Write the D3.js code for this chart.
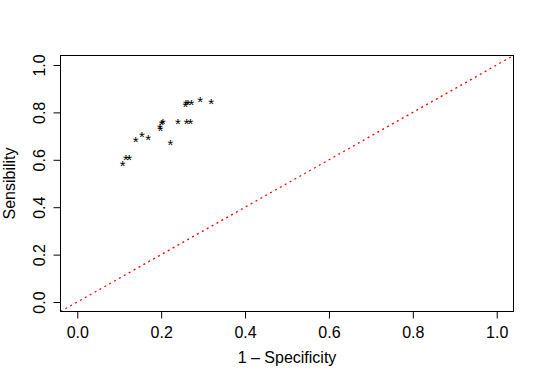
<!DOCTYPE html>
<html>
<head>
<meta charset="utf-8">
<script src="https://cdn.jsdelivr.net/npm/d3@7"></script>
<style>
  body { margin: 0; background: #fff; }
  text { font-family: "Liberation Sans", Arial, sans-serif; }
</style>
</head>
<body>
<div id="chart"></div>
<script>
// 1 - specificity / sensibility pairs
var fpr = [0.108, 0.116, 0.124, 0.139, 0.154, 0.169, 0.198, 0.197, 0.201, 0.204,
           0.222, 0.240, 0.261, 0.270, 0.258, 0.259, 0.264, 0.272, 0.293, 0.319];
var tpr = [0.591, 0.616, 0.616, 0.693, 0.716, 0.703, 0.739, 0.749, 0.763, 0.769,
           0.679, 0.768, 0.768, 0.768, 0.842, 0.851, 0.851, 0.851, 0.862, 0.852];
var ticks = [0, 0.2, 0.4, 0.6, 0.8, 1.0];

(function() {
    var w = 545, h = 382;
    var pLeft = 60.5, pRight = 513.5, pTop = 55.5, pBottom = 311.5;
    var fmt = d3.format(".1f");

    var svg = d3.select("#chart").append("svg")
        .attr("width", w)
        .attr("height", h);

    // R style 4% padding on both axes
    var x = d3.scaleLinear().domain([-0.04, 1.04]).range([pLeft, pRight]);
    var y = d3.scaleLinear().domain([-0.04, 1.04]).range([pBottom, pTop]);

    svg.append("clipPath").attr("id", "plotclip")
        .append("rect")
        .attr("x", pLeft).attr("y", pTop)
        .attr("width", pRight - pLeft).attr("height", pBottom - pTop);

    // diagonal reference line
    svg.append("line")
        .attr("clip-path", "url(#plotclip)")
        .attr("x1", x(-0.04)).attr("y1", y(-0.04))
        .attr("x2", x(1.04)).attr("y2", y(1.04))
        .attr("stroke", "#ff0000")
        .attr("stroke-width", 1.3)
        .attr("stroke-dasharray", "2,3.6");

    svg.selectAll("text.pt")
        .data(fpr)
        .enter().append("text")
        .attr("class", "pt")
        .attr("x", function(d) { return x(d); })
        .attr("y", function(d, i) { return y(tpr[i]); })
        .attr("dy", "0.62em")
        .attr("text-anchor", "middle")
        .attr("font-size", "15px")
        .attr("fill", "#000")
        .text("*");

    // box
    svg.append("rect")
        .attr("x", pLeft).attr("y", pTop)
        .attr("width", pRight - pLeft).attr("height", pBottom - pTop)
        .attr("fill", "none")
        .attr("stroke", "#000");

    var xAxis = d3.axisBottom(x).tickValues(ticks).tickSize(7).tickFormat(fmt);
    var gx = svg.append("g").attr("transform", "translate(0," + pBottom + ")").call(xAxis);
    gx.select(".domain").remove();
    gx.selectAll("text")
        .attr("y", 21).attr("dy", "0.35em")
        .style("font-family", "Liberation Sans, Arial, sans-serif")
        .style("font-size", "16px")
        .attr("fill", "#000");

    var yAxis = d3.axisLeft(y).tickValues(ticks).tickSize(7).tickFormat(fmt);
    var gy = svg.append("g").attr("transform", "translate(" + pLeft + ",0)").call(yAxis);
    gy.select(".domain").remove();
    gy.selectAll(".tick text")
        .attr("x", null).attr("dy", null).attr("y", null)
        .attr("text-anchor", "middle")
        .attr("transform", "translate(-16,0) rotate(-90)")
        .style("font-family", "Liberation Sans, Arial, sans-serif")
        .style("font-size", "16px")
        .attr("fill", "#000");

    svg.append("text")
        .attr("x", (pLeft + pRight) / 2)
        .attr("y", 363)
        .attr("text-anchor", "middle")
        .attr("font-size", "16px")
        .text("1 \u2013 Specificity");

    svg.append("text")
        .attr("transform", "translate(15," + ((pTop + pBottom) / 2) + ") rotate(-90)")
        .attr("text-anchor", "middle")
        .attr("font-size", "16px")
        .text("Sensibility");
})();
</script>
</body>
</html>
